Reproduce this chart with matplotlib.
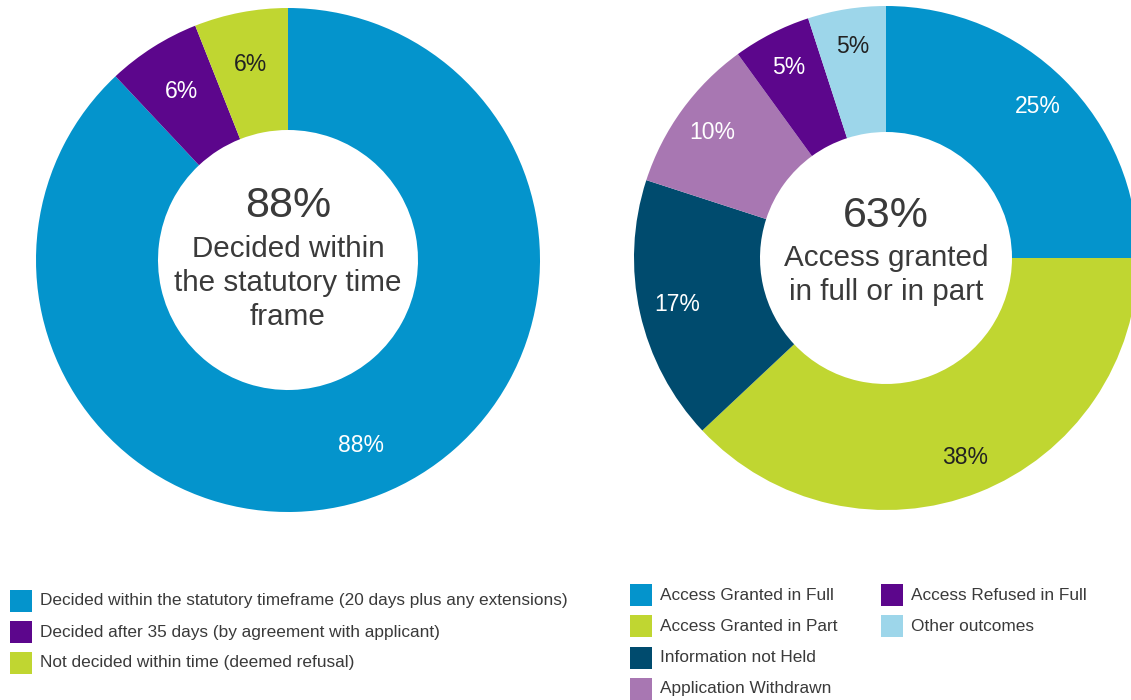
import matplotlib.pyplot as plt
from matplotlib.patches import Rectangle

plt.rcParams['font.family'] = ['Liberation Sans', 'DejaVu Sans']

# timeliness of decisions
time_labels = [
    "Decided within the statutory timeframe (20 days plus any extensions)",
    "Decided after 35 days (by agreement with applicant)",
    "Not decided within time (deemed refusal)",
]
time_values = [88, 6, 6]
time_colors = ["#0494CC", "#5C068C", "#C0D631"]
time_text = ["white", "white", "#222222"]

# outcomes of applications
outcome_labels = [
    "Access Granted in Full",
    "Access Granted in Part",
    "Information not Held",
    "Application Withdrawn",
    "Access Refused in Full",
    "Other outcomes",
]
outcome_values = [25, 38, 17, 10, 5, 5]
outcome_colors = ["#0494CC", "#C0D631", "#004B6E", "#A877B2", "#5C068C", "#9DD6EA"]
outcome_text = ["white", "#222222", "white", "white", "white", "#222222"]

W, H = 1131, 700
TEXT = "#3a3a3a"

fig = plt.figure(figsize=(W / 100, H / 100), dpi=100)
ax = fig.add_axes([0, 0, 1, 1])


def donut(values, colors, txt_colors, cx, cy, r, inner, pct_r, center_lines):
    wedges, _, autotexts = ax.pie(
        values, colors=colors, startangle=90, counterclock=False,
        center=(cx, H - cy), radius=r, frame=True,
        wedgeprops=dict(width=r - inner, linewidth=0),
        autopct="%.0f%%", pctdistance=pct_r,
        textprops=dict(fontsize=16.5),
    )
    for t, c in zip(autotexts, txt_colors):
        t.set_color(c)
    big, rest, dy = center_lines
    ax.text(cx, H - dy[0], big, ha="center", va="center", fontsize=31, color=TEXT)
    for line, y in zip(rest, dy[1:]):
        ax.text(cx, H - y, line, ha="center", va="center", fontsize=21.3, color=TEXT)


donut(time_values, time_colors, time_text, 288, 260, 252, 130, 0.79,
      ("88%", ["Decided within", "the statutory time", "frame"], [206, 249, 283, 317]))
donut(outcome_values, outcome_colors, outcome_text, 886, 258, 252, 126, 0.85,
      ("63%", ["Access granted", "in full or in part"], [216, 258, 292]))


def legend_item(x, y, color, label):
    ax.add_patch(Rectangle((x, H - y - 11), 22, 22, facecolor=color, edgecolor="none"))
    ax.text(x + 30, H - y, label, ha="left", va="center", fontsize=12.4, color=TEXT)


for i, (lab, col) in enumerate(zip(time_labels, time_colors)):
    legend_item(10, 601 + 31 * i, col, lab)

for i, (lab, col) in enumerate(zip(outcome_labels, outcome_colors)):
    if i < 4:
        legend_item(630, 595 + 31.3 * i, col, lab)
    else:
        legend_item(881, 595 + 31.3 * (i - 4), col, lab)

ax.set_xlim(0, W)
ax.set_ylim(0, H)
ax.set_aspect("equal")
ax.axis("off")

fig.savefig("out.png", dpi=100)
